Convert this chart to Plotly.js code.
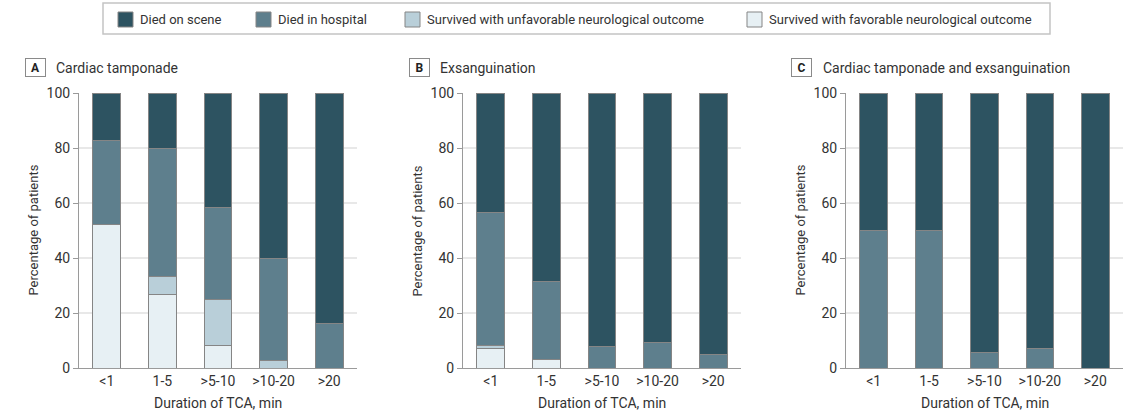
<!DOCTYPE html>
<html>
<head>
<meta charset="utf-8">
<script src="https://cdn.plot.ly/plotly-3.0.1.min.js"></script>
<style>html,body{margin:0;padding:0;background:#fff;}#chart{width:1130px;height:412px;}</style>
</head>
<body>
<div id="chart"></div>
<script>
// ---------- data ----------
const categories = ['<1', '1-5', '>5-10', '>10-20', '>20'];
const seriesNames = ['Died on scene', 'Died in hospital', 'Survived with unfavorable neurological outcome', 'Survived with favorable neurological outcome'];
const panelLetters = ['A', 'B', 'C'];
const panelTitles = ['Cardiac tamponade', 'Exsanguination', 'Cardiac tamponade and exsanguination'];
const yTickVals = [0, 20, 40, 60, 80, 100];
const yAxisTitle = 'Percentage of patients';
const xAxisTitle = 'Duration of TCA, min';

// Panel A: Cardiac tamponade (%)
const tampFavorable   = [52.2, 26.7, 8.3, 0, 0];
const tampUnfavorable = [0, 6.6, 16.7, 2.9, 0];
const tampHospital    = [30.4, 46.7, 33.3, 36.8, 16.3];
const tampScene       = [17.4, 20.0, 41.7, 60.3, 83.7];

// Panel B: Exsanguination (%)
const exsFavorable   = [7.0, 3.1, 0, 0, 0];
const exsUnfavorable = [1.2, 0, 0, 0, 0];
const exsHospital    = [48.2, 28.4, 8.0, 9.4, 5.0];
const exsScene       = [43.6, 68.5, 92.0, 90.6, 95.0];

// Panel C: Cardiac tamponade and exsanguination (%)
const bothFavorable   = [0, 0, 0, 0, 0];
const bothUnfavorable = [0, 0, 0, 0, 0];
const bothHospital    = [50, 50, 5.7, 7.1, 0];
const bothScene       = [50, 50, 94.3, 92.9, 100];

// ---------- styles ----------
const W = 1130, H = 412;
const colors = ['#2d5361', '#5e7f8d', '#b9cfd9', '#e7f0f4'];
const FONT = 'Roboto, "Open Sans", sans-serif';
const textColor = '#333333';
const panels = [
  {fav: tampFavorable, unf: tampUnfavorable, hos: tampHospital, sce: tampScene, x0: 79, x1: 357},
  {fav: exsFavorable, unf: exsUnfavorable, hos: exsHospital, sce: exsScene, x0: 463, x1: 741},
  {fav: bothFavorable, unf: bothUnfavorable, hos: bothHospital, sce: bothScene, x0: 846, x1: 1123}
];
const plotTop = 93, plotBottom = 368;
const px = v => v / W;
const py = v => 1 - v / H;

const nz = arr => arr.map(v => (v === 0 ? null : v));

const traces = [];
const layout = {
  width: W, height: H,
  margin: {l: 0, r: 0, t: 0, b: 0},
  paper_bgcolor: '#fff', plot_bgcolor: '#fff',
  barmode: 'stack', bargap: 0.5,
  showlegend: false,
  font: {family: FONT, color: textColor, size: 13},
  annotations: [], shapes: []
};

panels.forEach((p, i) => {
  const xa = i === 0 ? 'x' : 'x' + (i + 1);
  const ya = i === 0 ? 'y' : 'y' + (i + 1);
  const stack = [p.fav, p.unf, p.hos, p.sce];
  const order = [3, 2, 1, 0]; // series index for each stack level
  stack.forEach((vals, k) => {
    const s = order[k];
    traces.push({
      type: 'bar', x: categories, y: nz(vals), name: seriesNames[s],
      xaxis: xa, yaxis: ya,
      marker: {color: colors[s], line: {color: '#858585', width: 1}},
      hoverinfo: 'x+y+name'
    });
  });
  const xKey = i === 0 ? 'xaxis' : 'xaxis' + (i + 1);
  const yKey = i === 0 ? 'yaxis' : 'yaxis' + (i + 1);
  layout[xKey] = {
    domain: [px(p.x0), px(p.x1)], anchor: ya,
    range: [-0.5, 4.5], type: 'category',
    showline: true, linecolor: '#9a9a9a', linewidth: 1,
    ticks: '', showgrid: false, zeroline: false,
    tickfont: {family: FONT, size: 14, color: textColor},
    fixedrange: true
  };
  layout[yKey] = {
    domain: [py(plotBottom), py(plotTop)], anchor: xa,
    range: [0, 100], tickvals: yTickVals,
    showline: true, linecolor: '#9a9a9a', linewidth: 1,
    ticks: 'outside', ticklen: 5, tickcolor: '#9a9a9a',
    showgrid: true, gridcolor: '#e8e8e8', gridwidth: 1.5,
    zeroline: false,
    tickfont: {family: FONT, size: 14, color: textColor},
    fixedrange: true
  };
  // panel letter box + title
  layout.annotations.push({
    xref: 'paper', yref: 'paper', x: px(p.x0 - 44), y: py(67.5), xanchor: 'center', yanchor: 'middle',
    text: '<b>' + panelLetters[i] + '</b>', showarrow: false,
    font: {family: FONT, size: 12, color: '#222'},
    bordercolor: '#8a8a8a', borderwidth: 1, borderpad: 1.5, width: 16, height: 14, bgcolor: '#fff'
  });
  layout.annotations.push({
    xref: 'paper', yref: 'paper', x: px(p.x0 - 25), y: py(67.5), xanchor: 'left', yanchor: 'middle',
    text: panelTitles[i], showarrow: false,
    font: {family: FONT, size: 14, color: textColor}
  });
  // axis titles
  layout.annotations.push({
    xref: 'paper', yref: 'paper', x: px(p.x0 - 46), y: py((plotTop + plotBottom) / 2),
    xanchor: 'center', yanchor: 'middle', textangle: -90,
    text: yAxisTitle, showarrow: false,
    font: {family: FONT, size: 13, color: textColor}
  });
  layout.annotations.push({
    xref: 'paper', yref: 'paper', x: px((p.x0 + p.x1) / 2), y: py(403),
    xanchor: 'center', yanchor: 'middle',
    text: xAxisTitle, showarrow: false,
    font: {family: FONT, size: 14, color: textColor}
  });
});

// ---------- legend (drawn manually) ----------
const legendBox = {x0: 103, x1: 1050, y0: 3, y1: 34};
const legendSwatchX = [118, 256, 405, 747];
layout.shapes.push({
  type: 'rect', xref: 'paper', yref: 'paper',
  x0: px(legendBox.x0), x1: px(legendBox.x1), y0: py(legendBox.y1), y1: py(legendBox.y0),
  line: {color: '#c4c4c4', width: 1.5}, fillcolor: 'rgba(0,0,0,0)'
});
seriesNames.forEach((name, s) => {
  const sx = legendSwatchX[s];
  layout.shapes.push({
    type: 'rect', xref: 'paper', yref: 'paper',
    x0: px(sx), x1: px(sx + 15), y0: py(27), y1: py(12),
    line: {color: '#858585', width: 1}, fillcolor: colors[s]
  });
  layout.annotations.push({
    xref: 'paper', yref: 'paper', x: px(sx + 20), y: py(19.5), xanchor: 'left', yanchor: 'middle',
    text: name, showarrow: false,
    font: {family: FONT, size: 13, color: textColor}
  });
});

Plotly.newPlot('chart', traces, layout, {displayModeBar: false, staticPlot: true});
</script>
</body>
</html>
